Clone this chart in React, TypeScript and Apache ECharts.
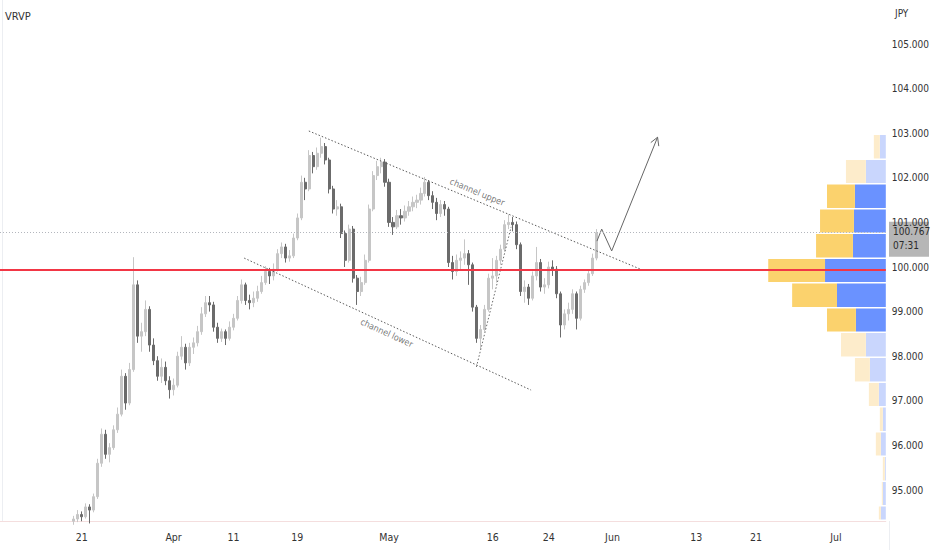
import React, { useEffect, useRef } from "react";
import * as echarts from "echarts";

const FONT = '"Liberation Sans Narrow", "DejaVu Sans Condensed", "Liberation Sans", Roboto, sans-serif';

// time slots across the horizontal axis (one slot per candle period)
const SLOT_COUNT = 222;
const CATEGORIES = Array.from({ length: SLOT_COUNT }, (_, i) => String(i));
const TIME_TICKS: [number, string][] = [
  [20, "21"], [43, "Apr"], [58, "11"], [74, "19"], [97, "May"], [123, "16"],
  [137, "24"], [153, "Jun"], [174, "13"], [189, "21"], [209, "Jul"],
];

// price axis
const PRICE_MIN = 94.305;
const PRICE_MAX = 105.987;
const PRICE_TICKS = [95, 96, 97, 98, 99, 100, 101, 102, 103, 104, 105];
const LAST_PRICE = 100.767;
const COUNTDOWN = "07:31";
const KEY_LEVEL = 99.93;

// candles: [open, close, low, high]
const FIRST_CANDLE_SLOT = 18;
const CANDLES: number[][] = [
  [94.30, 94.35, 94.22, 94.42], [94.35, 94.45, 94.28, 94.55], [94.45, 94.40, 94.30, 94.52], [94.40, 94.62, 94.36, 94.70],
  [94.62, 94.55, 94.25, 94.68], [94.55, 94.85, 94.50, 94.92], [94.85, 95.60, 94.80, 95.70], [95.60, 96.25, 95.52, 96.38],
  [96.25, 95.80, 95.70, 96.35], [95.80, 95.95, 95.62, 96.05], [95.95, 96.35, 95.90, 96.45], [96.35, 96.70, 96.28, 96.85],
  [96.70, 97.55, 96.65, 97.70], [97.55, 96.95, 96.80, 97.62], [96.95, 97.70, 96.90, 97.85], [97.70, 99.60, 97.65, 100.22],
  [99.60, 98.45, 98.30, 99.70], [98.45, 98.55, 98.10, 98.75], [98.55, 99.05, 98.45, 99.25], [99.05, 98.25, 98.10, 99.12],
  [98.25, 97.90, 97.80, 98.40], [97.90, 97.55, 97.45, 98.00], [97.55, 97.75, 97.40, 97.95], [97.75, 97.45, 97.35, 97.88],
  [97.45, 97.25, 97.05, 97.55], [97.25, 97.35, 97.12, 97.50], [97.35, 98.00, 97.30, 98.10], [98.00, 98.20, 97.92, 98.45],
  [98.20, 97.85, 97.70, 98.28], [97.85, 98.20, 97.78, 98.30], [98.20, 98.30, 98.05, 98.42], [98.30, 98.55, 98.22, 98.68],
  [98.55, 98.95, 98.48, 99.10], [98.95, 99.20, 98.88, 99.35], [99.20, 99.15, 99.00, 99.35], [99.15, 98.65, 98.55, 99.22],
  [98.65, 98.40, 98.30, 98.75], [98.40, 98.55, 98.32, 98.62], [98.55, 98.40, 98.25, 98.60], [98.40, 98.65, 98.35, 98.78],
  [98.65, 98.85, 98.58, 98.95], [98.85, 99.25, 98.80, 99.35], [99.25, 99.60, 99.18, 99.72], [99.60, 99.25, 99.15, 99.65],
  [99.25, 99.20, 99.05, 99.38], [99.20, 99.30, 99.10, 99.45], [99.30, 99.45, 99.22, 99.58], [99.45, 99.65, 99.40, 99.80],
  [99.65, 99.90, 99.60, 100.02], [99.90, 99.80, 99.62, 99.98], [99.80, 99.95, 99.70, 100.08], [99.95, 100.30, 99.90, 100.40],
  [100.30, 100.45, 100.20, 100.55], [100.45, 100.20, 100.10, 100.52], [100.20, 100.25, 100.12, 100.38], [100.25, 100.65, 100.20, 100.75],
  [100.65, 101.10, 100.60, 101.20], [101.10, 101.90, 101.05, 102.05], [101.90, 101.75, 101.50, 102.00], [101.75, 102.50, 101.70, 102.62],
  [102.50, 102.25, 102.10, 102.58], [102.25, 102.55, 102.18, 102.68], [102.55, 102.70, 102.45, 102.90], [102.70, 102.40, 102.30, 102.78],
  [102.40, 101.75, 101.65, 102.45], [101.75, 101.30, 101.20, 101.82], [101.30, 101.35, 101.15, 101.50], [101.35, 100.75, 100.65, 101.42],
  [100.75, 100.15, 100.00, 100.82], [100.15, 100.85, 100.10, 100.95], [100.85, 99.75, 99.65, 100.92], [99.75, 99.45, 99.15, 99.82],
  [99.45, 99.65, 99.35, 99.78], [99.65, 100.15, 99.60, 100.28], [100.15, 101.30, 100.10, 101.40], [101.30, 102.05, 101.25, 102.15],
  [102.05, 102.25, 101.95, 102.38], [102.25, 102.35, 102.10, 102.45], [102.35, 101.90, 101.80, 102.42], [101.90, 101.00, 100.90, 101.98],
  [101.00, 100.90, 100.72, 101.12], [100.90, 101.15, 100.85, 101.28], [101.15, 101.10, 100.95, 101.30], [101.10, 101.25, 101.02, 101.38],
  [101.25, 101.35, 101.15, 101.48], [101.35, 101.45, 101.25, 101.58], [101.45, 101.50, 101.32, 101.62], [101.50, 101.65, 101.40, 101.78],
  [101.65, 101.90, 101.58, 102.02], [101.90, 101.60, 101.50, 101.95], [101.60, 101.45, 101.30, 101.70], [101.45, 101.20, 101.05, 101.55],
  [101.20, 101.40, 101.12, 101.50], [101.40, 101.30, 101.15, 101.48], [101.30, 100.10, 100.00, 101.35], [100.10, 99.90, 99.72, 100.25],
  [99.90, 100.15, 99.80, 100.28], [100.15, 100.20, 99.95, 100.35], [100.20, 100.30, 100.05, 100.62], [100.30, 100.05, 99.60, 100.38],
  [100.05, 99.10, 99.00, 100.10], [99.10, 98.40, 98.30, 99.15], [98.40, 98.60, 98.15, 98.70], [98.60, 99.05, 98.55, 99.15],
  [99.05, 99.75, 99.00, 99.85], [99.75, 99.80, 99.50, 100.20], [99.80, 100.15, 99.65, 100.25], [100.15, 100.40, 100.05, 100.50],
  [100.40, 100.95, 100.35, 101.05], [100.95, 101.00, 100.85, 101.18], [101.00, 100.95, 100.80, 101.12], [100.95, 100.50, 100.40, 101.02],
  [100.50, 99.45, 99.35, 100.55], [99.45, 99.55, 99.20, 99.70], [99.55, 99.30, 99.15, 99.62], [99.30, 99.80, 99.25, 99.90],
  [99.80, 100.10, 99.70, 100.45], [100.10, 99.55, 99.45, 100.18], [99.55, 99.60, 99.40, 99.75], [99.60, 100.00, 99.52, 100.12],
  [100.00, 99.95, 99.80, 100.15], [99.95, 99.40, 99.30, 100.02], [99.40, 98.70, 98.42, 99.45], [98.70, 98.95, 98.60, 99.05],
  [98.95, 99.05, 98.80, 99.20], [99.05, 99.40, 98.95, 99.50], [99.40, 98.85, 98.60, 99.45], [98.85, 99.50, 98.80, 99.58],
  [99.50, 99.65, 99.42, 99.72], [99.65, 99.85, 99.58, 99.92], [99.85, 100.20, 99.80, 100.30], [100.20, 100.77, 100.15, 100.85],
];

// drawings: [slot, price]
const CHANNEL_UPPER = [[76.9, 103.05], [160.6, 99.93]];
const CHANNEL_LOWER = [[60.7, 100.20], [132.6, 97.24]];
const SWING_LINE = [[118.9, 97.76], [127.6, 100.90]];
const PROJECTION = [[149.1, 100.58], [150.3, 100.85], [152.8, 100.36], [164.3, 102.91]];
const ARROW_HEAD = [[162.6, 102.79], [164.3, 102.91], [164.6, 102.71]];
const UPPER_LABEL_AT = [119.1, 101.68];
const LOWER_LABEL_AT = [96.4, 98.52];

// visible-range volume profile rows (top to bottom)
const VP_EDGES = [102.96, 102.40, 101.85, 101.29, 100.74, 100.18, 99.63, 99.07, 98.52, 97.96, 97.40, 96.85, 96.29, 95.74, 95.18, 94.63, 94.07];
const VP_UP = [6, 20, 28, 34, 37, 57, 45, 29, 25, 15, 10, 3, 5, 2, 1, 2];
const VP_DOWN = [6, 20, 31, 32, 33, 61, 49, 30, 20, 16, 7, 3, 5, 1, 3, 5];
const VP_VALUE_AREA = [0, 0, 1, 1, 1, 1, 1, 1, 0, 0, 0, 0, 0, 0, 0, 0];
const VP_SCALE_MAX = 889;

export default function App() {
  const ref = useRef<HTMLDivElement>(null);

  useEffect(() => {
    if (!ref.current) return;
    const chart = echarts.init(ref.current, null, { renderer: "svg" });
    const tickMap = new Map<number, string>(TIME_TICKS);

    const candleData = CANDLES.map((c, k) => [FIRST_CANDLE_SLOT + k, c[0], c[1], c[2], c[3]]);
    const vpData = VP_UP.map((u, j) => [VP_EDGES[j + 1], VP_EDGES[j], u, VP_DOWN[j], VP_VALUE_AREA[j]]);

    const dotted = (color: string) => ({ color, width: 1, type: [1.5, 2] as any });

    chart.setOption({
      animation: false,
      backgroundColor: "#ffffff",
      textStyle: { fontFamily: FONT },
      grid: { left: 0, right: 43, top: 0, bottom: 29, containLabel: false },
      xAxis: [
        {
          type: "category",
          data: CATEGORIES,
          boundaryGap: true,
          axisLine: { show: true, lineStyle: { color: "#f4dede", width: 1 } },
          axisTick: { show: false },
          splitLine: { show: false },
          axisLabel: {
            interval: (index: number) => tickMap.has(index),
            formatter: (value: string) => tickMap.get(Number(value)) ?? "",
            color: "#333",
            fontSize: 10.5,
            margin: 10,
            fontFamily: FONT,
          },
        },
        { type: "value", min: -0.5, max: SLOT_COUNT - 0.5, show: false },
        { type: "value", min: 0, max: VP_SCALE_MAX, inverse: true, show: false },
      ],
      yAxis: [
        {
          type: "value",
          position: "right",
          min: PRICE_MIN,
          max: PRICE_MAX,
          axisLine: { show: true, lineStyle: { color: "#eceef2" } },
          axisTick: { show: false },
          splitLine: { show: false },
          axisLabel: {
            customValues: PRICE_TICKS,
            formatter: (v: number) => v.toFixed(3),
            color: "#333",
            fontSize: 10,
            margin: 6,
            fontFamily: FONT,
          },
        },
      ],
      series: [
        {
          type: "custom",
          name: "VRVP",
          xAxisIndex: 2,
          yAxisIndex: 0,
          z: 1,
          silent: true,
          encode: { x: [2, 3], y: [0, 1] },
          data: vpData,
          renderItem: (params: any, api: any) => {
            const lo = api.value(0);
            const hi = api.value(1);
            const up = api.value(2);
            const dn = api.value(3);
            const va = api.value(4);
            const cs = params.coordSys;
            const top = api.coord([0, hi]);
            const bot = api.coord([0, lo]);
            const xDn = api.coord([dn, hi])[0];
            const xUp = api.coord([dn + up, hi])[0];
            const y0 = top[1];
            const y1 = Math.min(bot[1], cs.y + cs.height);
            const h = Math.max(0, y1 - y0 - 1.5);
            return {
              type: "group",
              children: [
                { type: "rect", shape: { x: xDn, y: y0, width: top[0] - xDn, height: h }, style: { fill: va ? "#6a92ff" : "#c9d6fd" } },
                { type: "rect", shape: { x: xUp, y: y0, width: xDn - xUp, height: h }, style: { fill: va ? "#fbd26d" : "#fdeccb" } },
              ],
            };
          },
        },
        {
          type: "candlestick",
          name: "JPY",
          xAxisIndex: 0,
          yAxisIndex: 0,
          z: 3,
          barWidth: 2.6,
          encode: { x: 0, y: [1, 2, 3, 4] },
          data: candleData,
          itemStyle: {
            color: "#c6c6c6",
            color0: "#6b6b6b",
            borderColor: "#c6c6c6",
            borderColor0: "#6b6b6b",
            borderWidth: 1,
          },
          markLine: {
            silent: true,
            symbol: "none",
            label: { show: false },
            data: [
              { yAxis: LAST_PRICE, lineStyle: { color: "#b3b6bd", width: 1, type: [1, 2] } },
              { yAxis: KEY_LEVEL, lineStyle: { color: "#f23645", width: 2, type: "solid" } },
            ],
          },
        },
        { type: "line", xAxisIndex: 1, yAxisIndex: 0, z: 4, symbol: "none", silent: true, data: CHANNEL_UPPER, lineStyle: dotted("#5a5a5a") },
        { type: "line", xAxisIndex: 1, yAxisIndex: 0, z: 4, symbol: "none", silent: true, data: CHANNEL_LOWER, lineStyle: dotted("#5a5a5a") },
        { type: "line", xAxisIndex: 1, yAxisIndex: 0, z: 4, symbol: "none", silent: true, data: SWING_LINE, lineStyle: dotted("#6a6a6a") },
        { type: "line", xAxisIndex: 1, yAxisIndex: 0, z: 4, symbol: "none", silent: true, data: PROJECTION, lineStyle: { color: "#666", width: 1 } },
        { type: "line", xAxisIndex: 1, yAxisIndex: 0, z: 4, symbol: "none", silent: true, data: ARROW_HEAD, lineStyle: { color: "#666", width: 1 } },
        {
          type: "scatter",
          xAxisIndex: 1,
          yAxisIndex: 0,
          z: 5,
          symbolSize: 0,
          silent: true,
          itemStyle: { color: "transparent" },
          label: { show: true, position: "inside", color: "#555", fontSize: 9, fontFamily: FONT },
          data: [
            { value: UPPER_LABEL_AT, label: { formatter: "channel upper", rotate: -22.5 } },
            { value: LOWER_LABEL_AT, label: { formatter: "channel lower", rotate: -24.6 } },
          ],
        },
      ],
    });

    const yPx = chart.convertToPixel({ yAxisIndex: 0 }, LAST_PRICE) as number;
    chart.setOption({
      graphic: [
        { type: "text", left: 5, top: 11, z: 20, style: { text: "VRVP", fill: "#333", fontSize: 11, fontFamily: FONT } },
        { type: "text", left: 895, top: 8, z: 20, style: { text: "JPY", fill: "#333", fontSize: 10, fontFamily: FONT } },
        { type: "line", z: 20, shape: { x1: 889.5, y1: 521, x2: 889.5, y2: 550 }, style: { stroke: "#eceef2", lineWidth: 1 } },
        {
          type: "group",
          z: 30,
          x: 889,
          y: yPx - 11,
          children: [
            { type: "rect", shape: { x: 0, y: 0, width: 40, height: 35 }, style: { fill: "#b6b6b6" } },
            { type: "text", x: 4, y: 5, style: { text: LAST_PRICE.toFixed(3), fill: "#2a2a2a", fontSize: 10, fontFamily: FONT } },
            { type: "text", x: 4, y: 19, style: { text: COUNTDOWN, fill: "#2a2a2a", fontSize: 10, fontFamily: FONT } },
          ],
        },
      ],
    });

    return () => chart.dispose();
  }, []);

  return <div ref={ref} style={{ position: "absolute", left: 0, top: 0, width: 932, height: 550 }} />;
}
